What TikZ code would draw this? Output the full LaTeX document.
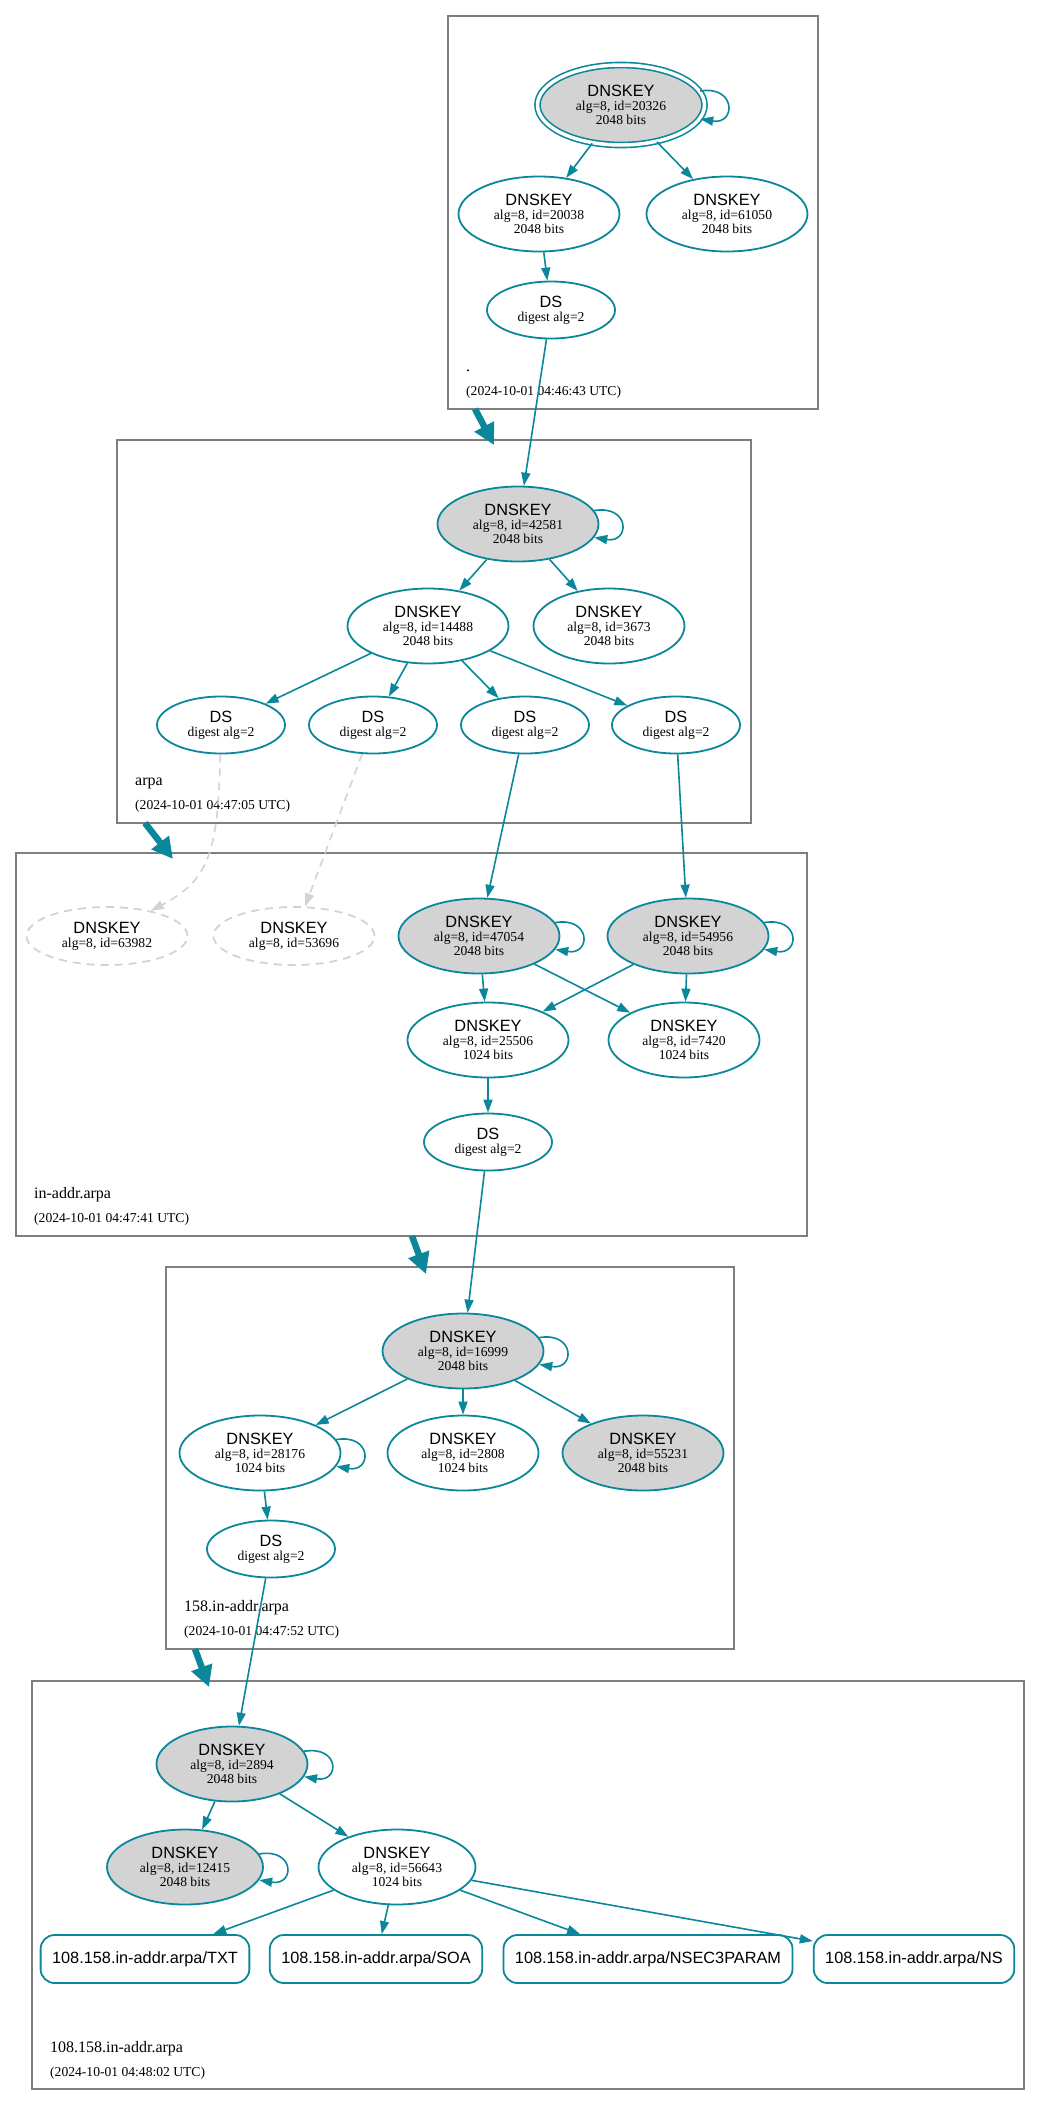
\documentclass[tikz,border=0pt]{standalone}
\usepackage{fontspec}
\setmainfont{Liberation Serif}
\setsansfont{Liberation Sans}
\usetikzlibrary{shapes.geometric,arrows.meta}
\definecolor{dnsteal}{HTML}{0A879A}
\definecolor{keygray}{HTML}{D3D3D3}
\definecolor{zonegray}{HTML}{7F7F7F}
\newcommand{\rrtype}[1]{{\sffamily\fontsize{16.3}{16}\selectfont #1}}

\begin{document}
\begin{tikzpicture}[x=1pt,y=-1pt]
    \tikzstyle{zone}=[draw=zonegray,line width=1.2pt]
    \tikzstyle{zname}=[anchor=base west,inner sep=0pt,font=\fontsize{16}{16}\selectfont]
    \tikzstyle{zdate}=[anchor=base west,inner sep=0pt,font=\fontsize{13.6}{14}\selectfont]
    \tikzstyle{key}=[ellipse,draw=dnsteal,line width=1.8pt,fill=white,minimum width=161pt,minimum height=75pt,inner sep=0pt,align=center,font=\fontsize{13.6}{14}\selectfont]
    \tikzstyle{narrowkey}=[minimum width=151pt]
    \tikzstyle{sepkey}=[fill=keygray]
    \tikzstyle{anchorkey}=[double=white,double distance=3.5pt,line width=1.6pt,minimum width=167pt,minimum height=80pt]
    \tikzstyle{ds}=[key,minimum width=128pt,minimum height=57pt]
    \tikzstyle{ghost}=[key,draw=keygray,dash pattern=on 8pt off 6pt,minimum height=58pt]
    \tikzstyle{rrset}=[rectangle,rounded corners=14pt,draw=dnsteal,line width=1.8pt,fill=white,minimum height=48pt,inner xsep=11.5pt,font=\sffamily\fontsize{16.3}{16}\selectfont]
    \tikzstyle{trust}=[draw=dnsteal,line width=1.6pt,-{Triangle[length=13pt,width=9pt]}]
    \tikzstyle{ghostline}=[draw=keygray,line width=1.6pt,dash pattern=on 8pt off 6pt,-{Triangle[length=13pt,width=9pt]}]
    \tikzstyle{deleg}=[draw=dnsteal,line width=6.5pt,-{Triangle[length=21pt,width=21pt]}]
    \useasboundingbox (0,0) rectangle (1040,2105);

    \draw[zone] (448,16) rectangle (818,409);
      \node[zname] at (466,371) {.};
      \node[zdate] at (466,395) {(2024-10-01 04:46:43 UTC)};
    \draw[zone] (117,440) rectangle (751,823);
      \node[zname] at (135,785) {arpa};
      \node[zdate] at (135,809) {(2024-10-01 04:47:05 UTC)};
    \draw[zone] (16,853) rectangle (807,1236);
      \node[zname] at (34,1198) {in-addr.arpa};
      \node[zdate] at (34,1222) {(2024-10-01 04:47:41 UTC)};
    \draw[zone] (166,1267) rectangle (734,1649);
      \node[zname] at (184,1611) {158.in-addr.arpa};
      \node[zdate] at (184,1635) {(2024-10-01 04:47:52 UTC)};
    \draw[zone] (32,1681) rectangle (1024,2089);
      \node[zname] at (50,2052) {108.158.in-addr.arpa};
      \node[zdate] at (50,2076) {(2024-10-01 04:48:02 UTC)};

    \node[key,sepkey,anchorkey] (k20326) at (621,105) {\rrtype{DNSKEY}\\alg=8, id=20326\\2048 bits};
    \node[key] (k20038) at (539,214) {\rrtype{DNSKEY}\\alg=8, id=20038\\2048 bits};
    \node[key] (k61050) at (727,214) {\rrtype{DNSKEY}\\alg=8, id=61050\\2048 bits};
    \node[ds] (ds0) at (551,310) {\rrtype{DS}\\digest alg=2};

    \node[key,sepkey] (k42581) at (518,524) {\rrtype{DNSKEY}\\alg=8, id=42581\\2048 bits};
    \node[key] (k14488) at (428,626) {\rrtype{DNSKEY}\\alg=8, id=14488\\2048 bits};
    \node[key,narrowkey] (k3673) at (609,626) {\rrtype{DNSKEY}\\alg=8, id=3673\\2048 bits};
    \node[ds] (ds1) at (221,725) {\rrtype{DS}\\digest alg=2};
    \node[ds] (ds2) at (373,725) {\rrtype{DS}\\digest alg=2};
    \node[ds] (ds3) at (525,725) {\rrtype{DS}\\digest alg=2};
    \node[ds] (ds4) at (676,725) {\rrtype{DS}\\digest alg=2};

    \node[ghost] (k63982) at (107,936) {\rrtype{DNSKEY}\\alg=8, id=63982};
    \node[ghost] (k53696) at (294,936) {\rrtype{DNSKEY}\\alg=8, id=53696};
    \node[key,sepkey] (k47054) at (479,936) {\rrtype{DNSKEY}\\alg=8, id=47054\\2048 bits};
    \node[key,sepkey] (k54956) at (688,936) {\rrtype{DNSKEY}\\alg=8, id=54956\\2048 bits};
    \node[key] (k25506) at (488,1040) {\rrtype{DNSKEY}\\alg=8, id=25506\\1024 bits};
    \node[key,narrowkey] (k7420) at (684,1040) {\rrtype{DNSKEY}\\alg=8, id=7420\\1024 bits};
    \node[ds] (ds5) at (488,1142) {\rrtype{DS}\\digest alg=2};

    \node[key,sepkey] (k16999) at (463,1351) {\rrtype{DNSKEY}\\alg=8, id=16999\\2048 bits};
    \node[key] (k28176) at (260,1453) {\rrtype{DNSKEY}\\alg=8, id=28176\\1024 bits};
    \node[key,narrowkey] (k2808) at (463,1453) {\rrtype{DNSKEY}\\alg=8, id=2808\\1024 bits};
    \node[key,sepkey] (k55231) at (643,1453) {\rrtype{DNSKEY}\\alg=8, id=55231\\2048 bits};
    \node[ds] (ds6) at (271,1549) {\rrtype{DS}\\digest alg=2};

    \node[key,sepkey,narrowkey] (k2894) at (232,1764) {\rrtype{DNSKEY}\\alg=8, id=2894\\2048 bits};
    \node[key,sepkey,minimum width=156pt] (k12415) at (185,1867) {\rrtype{DNSKEY}\\alg=8, id=12415\\2048 bits};
    \node[key,minimum width=157pt] (k56643) at (397,1867) {\rrtype{DNSKEY}\\alg=8, id=56643\\1024 bits};
    \node[rrset] (txt) at (145,1959) {108.158.in-addr.arpa/TXT};
    \node[rrset] (soa) at (376,1959) {108.158.in-addr.arpa/SOA};
    \node[rrset] (nsec3param) at (648,1959) {108.158.in-addr.arpa/NSEC3PARAM};
    \node[rrset] (ns) at (914,1959) {108.158.in-addr.arpa/NS};

    \coordinate (d1a) at (475,409);
    \coordinate (d1b) at (494,445);
    \coordinate (d2a) at (145,823);
    \coordinate (d2b) at (173,859);
    \coordinate (d3a) at (412,1236);
    \coordinate (d3b) at (426,1274);
    \coordinate (d4a) at (195,1649);
    \coordinate (d4b) at (209,1687);
    \draw[deleg] (d1a) -- (d1b);
    \draw[deleg] (d2a) -- (d2b);
    \draw[deleg] (d3a) -- (d3b);
    \draw[deleg] (d4a) -- (d4b);

    \draw[trust] (k20326.10) .. controls +(36,-6) and +(36,6) .. (k20326.-10);
    \draw[trust] (k20326) -- (k20038);
    \draw[trust] (k20326) -- (k61050);
    \draw[trust] (k20038) -- (ds0);
    \draw[trust] (ds0) -- (k42581);

    \draw[trust] (k42581.10) .. controls +(36,-6) and +(36,6) .. (k42581.-10);
    \draw[trust] (k42581) -- (k14488);
    \draw[trust] (k42581) -- (k3673);
    \draw[trust] (k14488) -- (ds1);
    \draw[trust] (k14488) -- (ds2);
    \draw[trust] (k14488) -- (ds3);
    \draw[trust] (k14488) -- (ds4);
    \draw[ghostline] (ds1) .. controls (218,850) and (210,880) .. (k63982.30);
    \draw[ghostline] (ds2) -- (k53696);
    \draw[trust] (ds3) -- (k47054);
    \draw[trust] (ds4) -- (k54956);

    \draw[trust] (k47054.10) .. controls +(36,-6) and +(36,6) .. (k47054.-10);
    \draw[trust] (k54956.10) .. controls +(36,-6) and +(36,6) .. (k54956.-10);
    \draw[trust] (k47054) -- (k25506);
    \draw[trust] (k47054) -- (k7420);
    \draw[trust] (k54956) -- (k25506);
    \draw[trust] (k54956) -- (k7420);
    \draw[trust] (k25506) -- (ds5);
    \draw[trust] (ds5) -- (k16999);

    \draw[trust] (k16999.10) .. controls +(36,-6) and +(36,6) .. (k16999.-10);
    \draw[trust] (k16999) -- (k28176);
    \draw[trust] (k16999) -- (k2808);
    \draw[trust] (k16999) -- (k55231);
    \draw[trust] (k28176.10) .. controls +(36,-6) and +(36,6) .. (k28176.-10);
    \draw[trust] (k28176) -- (ds6);
    \draw[trust] (ds6) -- (k2894);

    \draw[trust] (k2894.10) .. controls +(36,-6) and +(36,6) .. (k2894.-10);
    \draw[trust] (k2894) -- (k12415);
    \draw[trust] (k2894) -- (k56643);
    \draw[trust] (k12415.10) .. controls +(36,-6) and +(36,6) .. (k12415.-10);
    \draw[trust] (k56643) -- (txt);
    \draw[trust] (k56643) -- (soa);
    \draw[trust] (k56643) -- (nsec3param);
    \draw[trust] (k56643) -- (ns);
\end{tikzpicture}
\end{document}
